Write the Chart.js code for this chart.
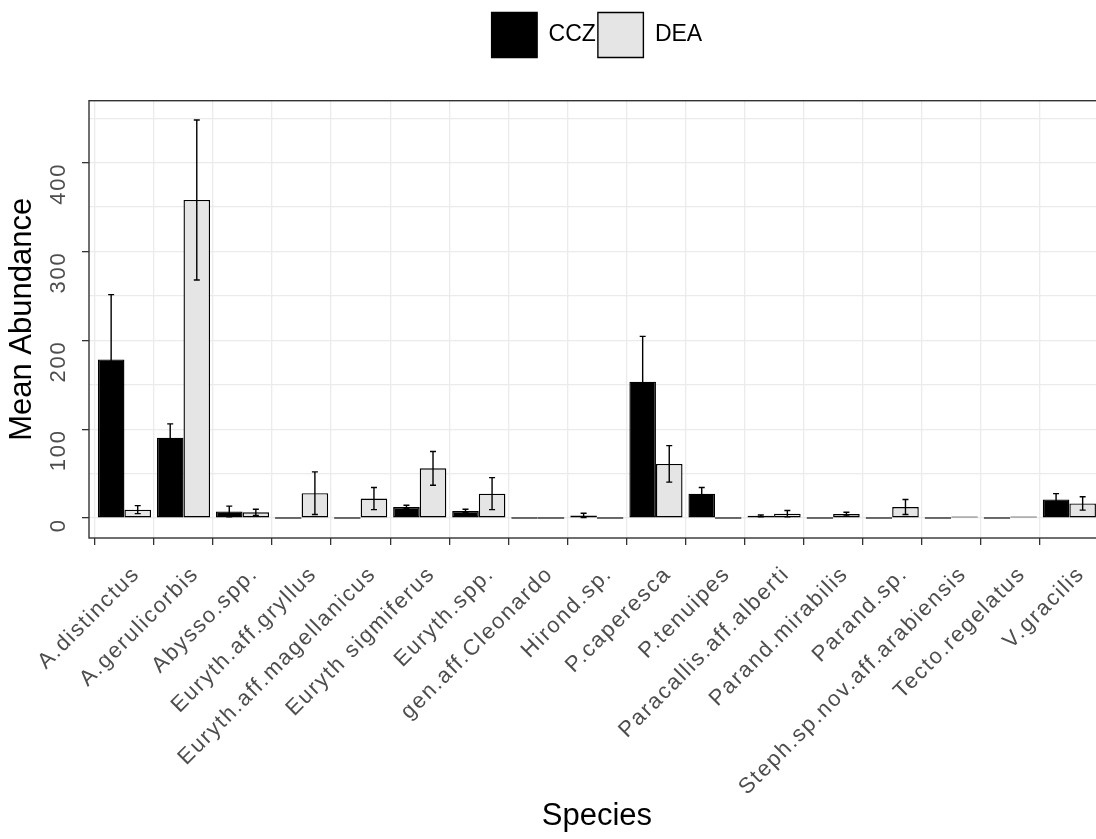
<!DOCTYPE html>
<html><head><meta charset="utf-8">
<script src="https://cdn.jsdelivr.net/npm/chart.js@4.4.1/dist/chart.umd.min.js"></script>
<style>html,body{margin:0;padding:0;overflow:hidden;background:#fff}canvas{display:block}</style>
</head><body>
<canvas id="c" width="1194" height="839"></canvas>
<script>
const categories = ["A.distinctus","A.gerulicorbis","Abysso.spp.","Euryth.aff.gryllus","Euryth.aff.magellanicus","Euryth sigmiferus","Euryth.spp.","gen.aff.Cleonardo","Hirond.sp.","P.caperesca","P.tenuipes","Paracallis.aff.alberti","Parand.mirabilis","Parand.sp.","Steph.sp.nov.aff.arabiensis","Tecto.regelatus","V.gracilis"];
const seriesNames = ["CCZ","DEA"];
const cczMean = [178.5, 90.5, 7.5, 0, 0, 12.5, 8, 0, 3, 153.5, 27.5, 2.5, 0, 0, 0, 0, 21];
const cczSE   = [73, 15.5, 6, 0, 0, 2, 2, 0, 2.5, 51, 7, 1, 0, 0, 0, 0, 6.5];
const deaMean = [9.5, 358, 6.5, 28, 22, 56, 27.5, 0, 0, 61, 0, 5, 4.5, 12.5, 1.5, 1.5, 16.5];
const deaSE   = [4.5, 90, 3.5, 24, 12.5, 19, 18, 0, 0, 20.5, 0, 3.5, 2, 8.5, 0, 0, 7.5];
const yTickValues = [0, 100, 200, 300, 400];

const FONT = "'Liberation Sans', Arial, Helvetica, sans-serif";
const hasLS = typeof CanvasRenderingContext2D !== 'undefined' && ('letterSpacing' in CanvasRenderingContext2D.prototype);
const tickSize = hasLS ? 22 : 25;

const errorBars = {
  id: 'errorBars',
  afterDatasetsDraw(chart) {
    const ctx = chart.ctx, y = chart.scales.y;
    const ses = [cczSE, deaSE], means = [cczMean, deaMean];
    ctx.save();
    ctx.strokeStyle = '#000'; ctx.lineWidth = 1.4;
    chart.data.datasets.forEach((ds, di) => {
      const meta = chart.getDatasetMeta(di);
      meta.data.forEach((bar, j) => {
        const se = ses[di][j]; if (!se) return;
        const m = means[di][j];
        const yt = y.getPixelForValue(m + se), yb = y.getPixelForValue(m - se);
        const x = bar.x;
        ctx.beginPath();
        ctx.moveTo(x, yt); ctx.lineTo(x, yb);
        ctx.moveTo(x - 3, yt); ctx.lineTo(x + 3, yt);
        ctx.moveTo(x - 3, yb); ctx.lineTo(x + 3, yb);
        ctx.stroke();
      });
    });
    ctx.restore();
    if (hasLS) ctx.letterSpacing = '1.8px';
  },
  afterDraw(chart) {
    const ctx = chart.ctx;
    if (hasLS) ctx.letterSpacing = '0px';
    const a = chart.chartArea;
    ctx.save(); ctx.strokeStyle = '#333333'; ctx.lineWidth = 1.4;
    ctx.strokeRect(a.left, a.top, a.right - a.left, a.bottom - a.top);
    ctx.restore();
  }
};

const toXY = arr => arr.map((v, i) => ({x: i, y: v}));
const barCommon = { borderColor: '#000', borderWidth: 1.4, borderSkipped: false, minBarLength: 1.5, barPercentage: 1, categoryPercentage: 0.9 };

new Chart(document.getElementById('c'), {
  type: 'bar',
  data: {
    datasets: [
      Object.assign({ label: seriesNames[0], data: toXY(cczMean), backgroundColor: '#000000' }, barCommon),
      Object.assign({ label: seriesNames[1], data: toXY(deaMean), backgroundColor: '#E5E5E5' }, barCommon)
    ]
  },
  options: {
    responsive: false, animation: false, devicePixelRatio: 1,
    layout: { padding: { top: 10.5, right: 89.2, left: 0, bottom: 0 } },
    plugins: {
      legend: { position: 'top', fullSize: false, weight: 1000,
        labels: { boxWidth: 45.5, boxHeight: 45, padding: 2, color: '#000', font: { family: FONT, size: 23 } } },
      title: { display: true, text: ' ', position: 'top', fullSize: false, weight: 500,
        font: { family: FONT, size: 10, lineHeight: 1.2 }, padding: { top: 0, bottom: 21.2 } },
      tooltip: { enabled: false }
    },
    scales: {
      x: {
        type: 'linear', min: -0.6, max: 16.6, offset: false,
        afterFit: s => { s.height = 301; },
        ticks: { stepSize: 1, autoSkip: false, includeBounds: false, maxRotation: 45, minRotation: 45,
          padding: 16.4, labelOffset: 12, z: 1, color: '#4D4D4D', font: { family: FONT, size: tickSize },
          callback: v => (Number.isInteger(v) && categories[v] !== undefined) ? categories[v] : '' },
        grid: { color: '#EBEBEB', lineWidth: 1.3, tickLength: 7, tickColor: '#333333', tickWidth: 1.3 },
        border: { display: false },
        title: { display: true, text: 'Species', color: '#000', font: { family: FONT, size: 31 }, padding: { top: 4, bottom: 4 } }
      },
      y: {
        min: -22.4, max: 469.7,
        afterFit: s => { s.width = 89; },
        ticks: { stepSize: 50, includeBounds: false, minRotation: 90, maxRotation: 90, padding: 23.5, z: 1,
          color: '#4D4D4D', font: { family: FONT, size: tickSize },
          callback: v => yTickValues.includes(v) ? String(v) : '' },
        grid: { color: '#EBEBEB', lineWidth: 1.3, tickLength: 7, tickWidth: 1.3,
          tickColor: c => (c.tick && yTickValues.includes(c.tick.value)) ? '#333333' : 'rgba(0,0,0,0)' },
        border: { display: false },
        title: { display: true, text: 'Mean Abundance', color: '#000', font: { family: FONT, size: 31 }, padding: { top: 4, bottom: 4 } }
      }
    }
  },
  plugins: [errorBars]
});
</script>
</body></html>
